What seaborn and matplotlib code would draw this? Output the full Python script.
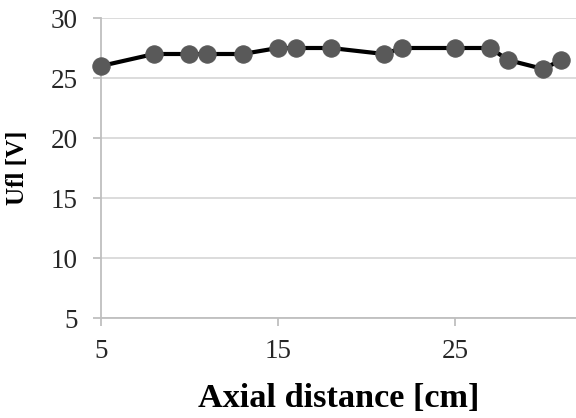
import matplotlib
matplotlib.use("Agg")
import matplotlib.pyplot as plt
import seaborn as sns
import pandas as pd

axial_cm = [5, 8, 10, 11, 13, 15, 16, 18, 21, 22, 25, 27, 28, 30, 31]
ufl_v = [26.0, 27.0, 27.0, 27.0, 27.0, 27.5, 27.5, 27.5, 27.0, 27.5, 27.5, 27.5, 26.5, 25.75, 26.5]
x_ticks = [5, 15, 25]
y_ticks = [5, 10, 15, 20, 25, 30]

df = pd.DataFrame({"x": axial_cm, "y": ufl_v})

sns.set_theme(style="white")
plt.rcParams["font.family"] = ["Liberation Serif", "DejaVu Serif"]

fig = plt.figure(figsize=(5.76, 4.18), dpi=100)
ax = fig.add_axes([101/576, 1 - 318/418, 1 - 101/576, 300/418])

sns.lineplot(data=df, x="x", y="y", ax=ax, color="black", linewidth=3,
             marker="o", markersize=12.5, markerfacecolor="#595959",
             markeredgecolor="#595959", zorder=3, clip_on=False)

ax.set_xlim(5, 31.85)
ax.set_ylim(5, 30)
ax.set_xticks(x_ticks)
ax.set_yticks(y_ticks)
ax.yaxis.grid(True, color="#d9d9d9", linewidth=1.3)
ax.xaxis.grid(False)
for s in ["top", "right"]:
    ax.spines[s].set_visible(False)
for s in ["left", "bottom"]:
    ax.spines[s].set_color("#bfbfbf")
    ax.spines[s].set_linewidth(1.3)
ax.tick_params(axis="both", which="major", length=6, width=1.3, color="#bfbfbf",
               labelsize=19.5, labelcolor="#262626", direction="out",
               bottom=True, left=True)
ax.tick_params(axis="x", pad=9)
ax.tick_params(axis="y", pad=11)
ax.set_xlabel("Axial distance [cm]", fontsize=24.7, fontweight="bold", color="black", labelpad=14)
ax.set_ylabel("Ufl [V]", fontsize=18, fontweight="bold", color="black", labelpad=15)

fig.savefig("out.png", dpi=100)
